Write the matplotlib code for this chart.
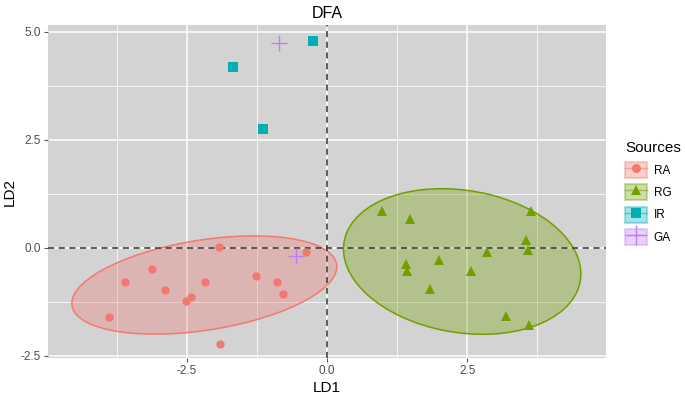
import matplotlib
matplotlib.use('Agg')
from matplotlib import pyplot as plt
from matplotlib.patches import Ellipse, Patch
from matplotlib.lines import Line2D
from matplotlib.ticker import MultipleLocator, FormatStrFormatter

plt.rcParams['font.family'] = ['Liberation Sans', 'DejaVu Sans']

# данные
sources = ['RA', 'RG', 'IR', 'GA']
colors = ['#F07A72', '#729E00', '#00AFB2', '#BF7CF5']
markers = ['o', '^', 's', '+']

ra_ld1 = [-1.93, -0.38, -3.12, -3.61, -2.89, -2.17, -1.26, -0.89, -0.79, -2.43, -2.52, -3.89, -1.91]
ra_ld2 = [0.03, -0.09, -0.48, -0.79, -0.97, -0.79, -0.64, -0.79, -1.06, -1.13, -1.24, -1.60, -2.22]
rg_ld1 = [0.98, 1.48, 3.63, 3.54, 3.58, 2.85, 1.40, 1.42, 2.00, 2.57, 1.83, 3.19, 3.61]
rg_ld2 = [0.86, 0.66, 0.86, 0.19, -0.05, -0.09, -0.37, -0.53, -0.29, -0.53, -0.95, -1.57, -1.78]
ir_ld1 = [-1.68, -1.14, -0.25]
ir_ld2 = [4.19, 2.75, 4.79]
ga_ld1 = [-0.85, -0.55]
ga_ld2 = [4.74, -0.19]

# эллипсы: центр, ширина, высота, угол
ell_center = {'RA': (-2.19, -0.86), 'RG': (2.41, -0.315)}
ell_size = {'RA': (4.82, 2.07), 'RG': (4.33, 3.25)}
ell_angle = {'RA': 12.5, 'RG': -18.3}

data = {'RA': (ra_ld1, ra_ld2), 'RG': (rg_ld1, rg_ld2),
        'IR': (ir_ld1, ir_ld2), 'GA': (ga_ld1, ga_ld2)}

fig = plt.figure(figsize=(6.85, 3.98), dpi=100)
ax = fig.add_axes([0.070, 0.1005, 0.815, 0.8365])
ax.set_facecolor('#D3D3D3')
for s in ax.spines.values():
    s.set_visible(False)

ax.set_xlim(-4.98, 4.98)
ax.set_ylim(-2.55, 5.16)
ax.xaxis.set_major_locator(MultipleLocator(2.5))
ax.yaxis.set_major_locator(MultipleLocator(2.5))
ax.xaxis.set_minor_locator(MultipleLocator(1.25))
ax.yaxis.set_minor_locator(MultipleLocator(1.25))
ax.xaxis.set_major_formatter(FormatStrFormatter('%.1f'))
ax.yaxis.set_major_formatter(FormatStrFormatter('%.1f'))
ax.grid(which='major', color='white', lw=1.1)
ax.grid(which='minor', color='white', lw=0.55)
ax.set_axisbelow(True)
ax.tick_params(which='major', length=3, color='#555555', labelcolor='#4D4D4D', labelsize=8.5, pad=2)
ax.tick_params(which='minor', length=0)

for src in ['RA', 'RG']:
    i = sources.index(src)
    e = Ellipse(ell_center[src], ell_size[src][0], ell_size[src][1], angle=ell_angle[src],
                facecolor=colors[i], alpha=0.33, edgecolor='none', zorder=2)
    ax.add_patch(e)
    e2 = Ellipse(ell_center[src], ell_size[src][0], ell_size[src][1], angle=ell_angle[src],
                 facecolor='none', edgecolor=colors[i], lw=1.1, zorder=2)
    ax.add_patch(e2)

ax.axhline(0, color='#333333', lw=1.1, ls=(0, (4, 3)), zorder=3)
ax.axvline(0, color='#333333', lw=1.1, ls=(0, (4, 3)), zorder=3)

sizes = {'o': 6.0, '^': 7.0, 's': 6.5, '+': 11}
for i, src in enumerate(sources):
    x, y = data[src]
    ax.plot(x, y, ls='none', marker=markers[i], color=colors[i], ms=sizes[markers[i]],
            mew=1.0 if markers[i] == '+' else 0, zorder=4)

ax.set_title('DFA', fontsize=11.5, pad=5)
ax.set_xlabel('LD1', fontsize=11, labelpad=3)
ax.set_ylabel('LD2', fontsize=11, labelpad=3)

handles = []
for i, src in enumerate(sources):
    p = Patch(facecolor=colors[i], alpha=0.35, edgecolor=colors[i], lw=1.5)
    ln = Line2D([], [], color=colors[i], alpha=0.5, lw=1.0)
    if markers[i] == '+':
        mk = Line2D([], [], ls='none', marker='+', color=colors[i], ms=15, mew=1.0)
    else:
        mk = Line2D([], [], ls='none', marker=markers[i], color=colors[i], ms=6.5, mew=0)
    handles.append((p, ln, mk))

leg = fig.legend(handles, sources, loc='upper left', bbox_to_anchor=(0.913, 0.645),
                 frameon=False, title='Sources', title_fontsize=11, fontsize=8.5,
                 handlelength=1.8, handleheight=1.7, labelspacing=0.55, handletextpad=0.6,
                 alignment='left', borderaxespad=0, borderpad=0)

plt.savefig('out.png', dpi=100)
